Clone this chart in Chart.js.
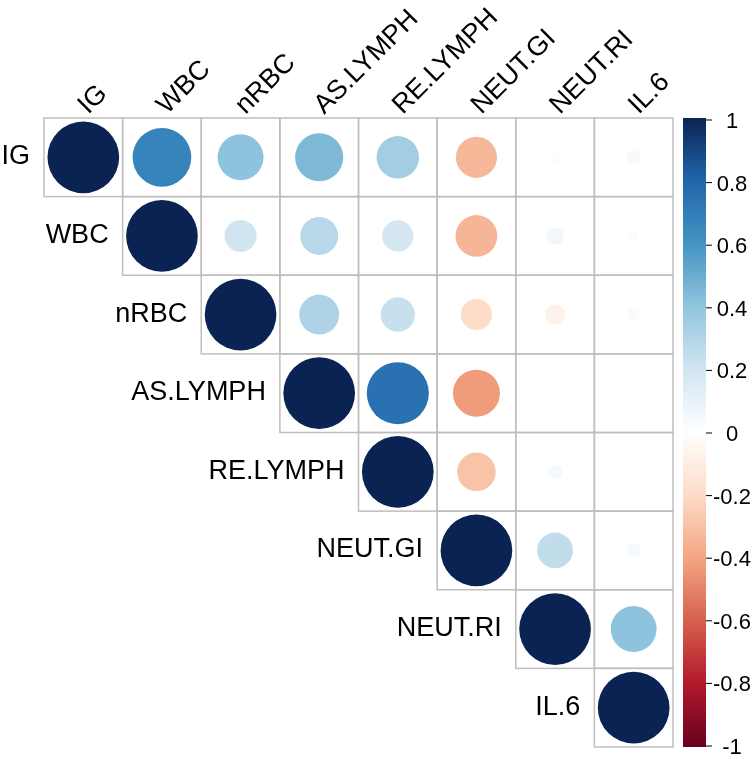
<!DOCTYPE html>
<html>
<head>
<meta charset="utf-8">
<script src="https://cdn.jsdelivr.net/npm/chart.js@4/dist/chart.umd.min.js"></script>
<style>
html,body{margin:0;padding:0;background:#fff;}
#wrap{width:754px;height:759px;}
</style>
</head>
<body>
<div id="wrap"><canvas id="c" width="754" height="759"></canvas></div>
<script>
// ---- data ----
const labels = ["IG","WBC","nRBC","AS.LYMPH","RE.LYMPH","NEUT.GI","NEUT.RI","IL.6"];
// upper-triangle rows (starting at the diagonal)
const rowIG     = [1, 0.67, 0.41, 0.45, 0.35, -0.33, -0.02, 0.04];
const rowWBC    = [1, 0.20, 0.28, 0.19, -0.34, 0.06, 0.02];
const rowNRBC   = [1, 0.31, 0.23, -0.19, -0.08, 0.03];
const rowASL    = [1, 0.75, -0.43, 0.004, 0.01];
const rowREL    = [1, -0.29, 0.04, 0.006];
const rowNEUTGI = [1, 0.25, 0.04];
const rowNEUTRI = [1, 0.41];
const rowIL6    = [1];
const rows = [rowIG,rowWBC,rowNRBC,rowASL,rowREL,rowNEUTGI,rowNEUTRI,rowIL6];
const cbTicks = [1,0.8,0.6,0.4,0.2,0,-0.2,-0.4,-0.6,-0.8,-1];
const cbTickLabels = ["1","0.8","0.6","0.4","0.2","0","-0.2","-0.4","-0.6","-0.8","-1"];
// RdBu-style anchor colours from -1 to 1
const palette = ["#67001F","#B2182B","#D6604D","#F4A582","#FDDBC7","#FFFFFF","#D1E5F0","#92C5DE","#4393C3","#2166AC","#0A2352"];

function hex2rgb(h){return [parseInt(h.slice(1,3),16),parseInt(h.slice(3,5),16),parseInt(h.slice(5,7),16)];}
function colorFor(v){
  const t = (Math.max(-1,Math.min(1,v))+1)/2*(palette.length-1);
  const i = Math.min(palette.length-2, Math.floor(t));
  const f = t-i;
  const a = hex2rgb(palette[i]), b = hex2rgb(palette[i+1]);
  const c = a.map((av,k)=>Math.round(av+(b[k]-av)*f));
  return `rgb(${c[0]},${c[1]},${c[2]})`;
}

const points = [];
rows.forEach((r,i)=>r.forEach((v,k)=>points.push({x:i+k, y:i, v:v})));

const FONT = '"Liberation Sans", Arial, Helvetica, sans-serif';

function cellSize(chart){
  const sx = chart.scales.x;
  if(!sx) return 78.6;
  const w = sx.getPixelForValue(1)-sx.getPixelForValue(0);
  return isFinite(w) && w>0 ? w : 78.6;
}

const corrPlugin = {
  id:'corr',
  beforeDatasetsDraw(chart){
    const {ctx, chartArea, scales:{x,y}} = chart;
    const cw = x.getPixelForValue(1)-x.getPixelForValue(0);
    const ch = Math.abs(y.getPixelForValue(1)-y.getPixelForValue(0));
    ctx.save();
    ctx.strokeStyle = '#bebebe';
    ctx.lineWidth = 1.5;
    for(let i=0;i<labels.length;i++){
      for(let j=i;j<labels.length;j++){
        ctx.strokeRect(x.getPixelForValue(j)-cw/2, y.getPixelForValue(i)-ch/2, cw, ch);
      }
    }
    ctx.fillStyle = '#000';
    ctx.font = '27px ' + FONT;
    ctx.textBaseline = 'alphabetic';
    ctx.textAlign = 'right';
    for(let i=0;i<labels.length;i++){
      ctx.fillText(labels[i], x.getPixelForValue(i)-cw/2-14, y.getPixelForValue(i)+7);
    }
    ctx.textAlign = 'left';
    for(let j=0;j<labels.length;j++){
      ctx.save();
      ctx.translate(x.getPixelForValue(j)+5, chartArea.top-3);
      ctx.rotate(-Math.PI/4);
      ctx.fillText(labels[j],0,0);
      ctx.restore();
    }
    // colour legend
    const bx0 = chartArea.right+10, bx1 = chartArea.right+33;
    const top = chartArea.top, bot = chartArea.bottom;
    const g = ctx.createLinearGradient(0,bot,0,top);
    palette.forEach((c,k)=>g.addColorStop(k/(palette.length-1), c));
    ctx.fillStyle = g;
    ctx.fillRect(bx0, top, bx1-bx0, bot-top);
    const h = bot-top;
    ctx.strokeStyle = '#000';
    ctx.lineWidth = 1;
    ctx.fillStyle = '#000';
    ctx.font = '22px ' + FONT;
    ctx.textAlign = 'center';
    cbTicks.forEach((v,k)=>{
      const ty = top+2+(1-v)/2*(h-3);
      ctx.beginPath();
      ctx.moveTo(bx1, ty); ctx.lineTo(bx1+6, ty); ctx.stroke();
      ctx.fillText(cbTickLabels[k], chartArea.right+59, ty+8);
    });
    ctx.restore();
  }
};

new Chart(document.getElementById('c'), {
  type:'bubble',
  data:{datasets:[{
    data: points,
    backgroundColor: c => (c.raw && c.raw.v !== undefined) ? colorFor(c.raw.v) : 'rgba(0,0,0,0)',
    borderWidth: 0,
    radius: c => (c.raw && c.raw.v !== undefined) ? cellSize(c.chart)*0.456*Math.sqrt(Math.abs(c.raw.v)) : 0,
    clip: false
  }]},
  options:{
    responsive:false,
    animation:false,
    events:[],
    layout:{autoPadding:false, padding:{left:44,right:81,top:118,bottom:12}},
    plugins:{legend:{display:false},tooltip:{enabled:false}},
    scales:{
      x:{type:'linear',min:-0.5,max:7.5,display:false},
      y:{type:'linear',min:-0.5,max:7.5,reverse:true,display:false}
    }
  },
  plugins:[corrPlugin]
});
</script>
</body>
</html>
